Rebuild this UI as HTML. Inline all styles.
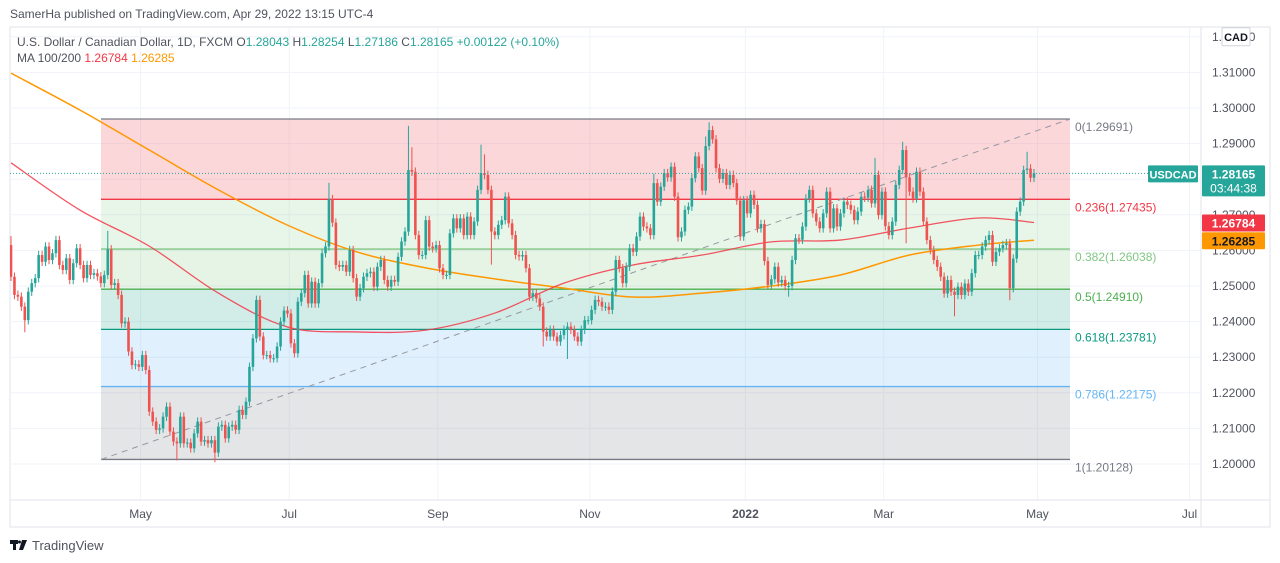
<!DOCTYPE html>
<html><head><meta charset="utf-8">
<style>
html,body{margin:0;padding:0;background:#fff;width:1280px;height:563px;overflow:hidden;font-family:"Liberation Sans",sans-serif;}
svg text{font-family:"Liberation Sans",sans-serif;}
</style></head>
<body>
<svg id="chart" width="1280" height="563" viewBox="0 0 1280 563" xmlns="http://www.w3.org/2000/svg">
  <text x="10" y="18" font-size="12" fill="#50535e">SamerHa published on TradingView.com, Apr 29, 2022 13:15 UTC-4</text>
  <rect x="10" y="27" width="1260" height="500" fill="#fff" stroke="#e0e3eb"/>
  <g id="grid"></g>
  <g id="fib"></g>
  <g id="plot"></g>
  <line x1="1201" y1="27" x2="1201" y2="527" stroke="#e0e3eb"/>
  <line x1="10" y1="500" x2="1270" y2="500" stroke="#e0e3eb"/>
  <g id="yaxis"></g>
  <g id="xaxis"></g>
  <text x="17" y="46" font-size="12" fill="#50535e">U.S. Dollar / Canadian Dollar, 1D, FXCM  O<tspan fill="#26a69a">1.28043</tspan>  H<tspan fill="#26a69a">1.28254</tspan>  L<tspan fill="#26a69a">1.27186</tspan>  C<tspan fill="#26a69a">1.28165</tspan>  <tspan fill="#26a69a">+0.00122 (+0.10%)</tspan></text>
  <text x="17" y="62" font-size="12" fill="#50535e">MA 100/200  <tspan fill="#f23645">1.26784</tspan>  <tspan fill="#ff9800">1.26285</tspan></text>
  <g>
    <rect x="10" y="540" width="8" height="4" fill="#131722"/><rect x="13" y="540" width="3" height="10" fill="#131722"/>
    <polygon points="19,550 22,540 27,540 23,550" fill="#131722"/><circle cx="19.5" cy="542" r="1.5" fill="#131722"/>
    <text x="32" y="550" font-size="13" fill="#50535e">TradingView</text>
  </g>
</svg>
<script>
const closes = [
1.2526,1.2475,1.2470,1.2442,1.2404,1.2484,1.2508,1.2522,1.2587,1.2568,
1.2611,1.2573,1.2592,1.2629,1.2559,1.2545,1.2578,1.2517,1.2564,1.2606,
1.2559,1.2522,1.2559,1.2531,1.2536,1.2527,1.2508,1.2531,1.2603,1.2503,
1.2508,1.2475,1.2395,1.2400,1.2316,1.2278,1.2280,1.2273,1.2306,1.2264,
1.2147,1.2119,1.2096,1.2100,1.2133,1.2161,1.2091,1.2063,1.2058,1.2133,
1.2058,1.2060,1.2044,1.2086,1.2119,1.2063,1.2067,1.2058,1.2067,1.2032,
1.2105,1.2110,1.2072,1.2105,1.2110,1.2096,1.2152,1.2138,1.2175,1.2273,
1.2353,1.2461,1.2358,1.2306,1.2306,1.2297,1.2297,1.2330,1.2400,1.2431,
1.2423,1.2339,1.2311,1.2456,
1.2480,1.2531,1.2451,1.2512,1.2451,1.2508,1.2592,1.2611,1.2744,1.2678,
1.2559,1.2554,1.2559,1.2540,1.2601,1.2522,1.2470,1.2494,1.2526,1.2536,
1.2540,1.2498,1.2554,1.2573,1.2517,1.2498,1.2517,1.2512,1.2582,1.2625,
1.2653,1.2826,1.2821,1.2643,1.2587,1.2587,1.2685,1.2611,1.2606,1.2615,
1.2550,1.2531,1.2531,1.2648,1.2690,1.2662,1.2690,1.2643,1.2695,1.2643,
1.2681,1.2770,1.2817,1.2812,1.2770,1.2653,1.2643,1.2672,1.2685,1.2751,
1.2676,1.2643,1.2587,1.2583,1.2587,1.2550,1.2470,1.2480,1.2465,1.2442,
1.2372,1.2358,1.2377,1.2358,1.2344,1.2362,1.2377,1.2386,1.2377,1.2358,
1.2344,1.2377,1.2404,1.2404,1.2433,1.2461,1.2456,1.2442,
1.2442,1.2433,1.2484,1.2573,1.2550,1.2508,1.2554,1.2606,1.2596,1.2639,
1.2695,1.2667,1.2662,1.2643,1.2789,1.2737,1.2779,1.2817,1.2805,1.2835,
1.2751,1.2637,1.2653,1.2714,1.2723,1.2803,1.2864,1.2831,1.2768,1.2893,
1.2938,1.2912,1.2831,1.2801,1.2817,1.2784,1.2812,1.2789,1.2740,1.2639,
1.2741,1.2704,1.2756,1.2728,1.2662,1.2674,1.2570,1.2503,1.2519,1.2554,
1.2510,1.2517,1.2500,1.2500,1.2573,1.2634,1.2630,1.2667,1.2746,1.2770,
1.2704,1.2681,1.2662,1.2704,1.2765,1.2662,1.2718,1.2667,1.2704,1.2737,
1.2728,1.2714,1.2685,1.2709,1.2751,1.2748,1.2770,1.2732,1.2812,1.2699,
1.2765,1.2668,1.2643,1.2681,1.2784,1.2826,1.2882,1.2805,1.2765,1.2746,
1.2821,
1.2765,1.2681,1.2629,1.2601,1.2573,1.2554,1.2526,1.2479,1.2517,1.2484,
1.2475,1.2498,1.2475,1.2507,1.2484,1.2536,1.2587,1.2587,1.2611,1.2629,
1.2643,1.2568,1.2596,1.2606,1.2615,1.2620,1.2494,1.2577,1.2709,1.2737,
1.2826,1.2830,1.2804,1.28165
];
const firstOpen = 1.2615;
const wickPad = 0.0012;
const highSpikes = {0:1.2640,28:1.2655,92:1.2790,115:1.2950,116:1.2890,136:1.2897,137:1.2870,186:1.2815,201:1.2920,202:1.2960,250:1.2860,258:1.2905,294:1.2877};
const lowSpikes = {4:1.2370,48:1.2010,59:1.2005,139:1.2560,154:1.2330,161:1.2295,225:1.2470,259:1.2620,273:1.2415,289:1.2460};
const maIdx = [0,20,40,60,80,100,120,140,160,180,200,220,240,260,280,296];
const ma100 = [1.2846,1.2713,1.2612,1.2480,1.2385,1.2371,1.2376,1.2424,1.2508,1.2559,1.2587,1.2624,1.2629,1.2663,1.2691,1.26784];
const ma200 = [1.3098,1.2994,1.2882,1.2770,1.2671,1.2596,1.2551,1.2520,1.2494,1.2469,1.2480,1.2500,1.2531,1.2587,1.2615,1.26285];
const fibRatios = ["0","0.236","0.382","0.5","0.618","0.786","1"];
const fibPrices = [1.29691,1.27435,1.26038,1.24910,1.23781,1.22175,1.20128];
const yTicks = [1.20,1.21,1.22,1.23,1.24,1.25,1.26,1.27,1.28,1.29,1.30,1.31,1.32];
const xTickLabels = ["May","Jul","Sep","Nov","2022","Mar","May","Jul"];
const xTickIdx = [37.5,80.5,123.5,167.5,212.5,252.5,297,341];

const NS="http://www.w3.org/2000/svg";
const N = closes.length;
function yOf(p){return 464-(p-1.20)*3560;}
function xOf(i){return 11+i*(1034-11)/(N-1);}
function mk(tag,attrs,parent){const e=document.createElementNS(NS,tag);for(const k in attrs)e.setAttribute(k,attrs[k]);parent.appendChild(e);return e;}
const grid=document.getElementById('grid'),plot=document.getElementById('plot'),fib=document.getElementById('fib'),yaxis=document.getElementById('yaxis'),xaxis=document.getElementById('xaxis');

const defs=mk('defs',{},document.getElementById('chart'));
const cp=mk('clipPath',{id:'pc'},defs);mk('rect',{x:10,y:28,width:1191,height:472},cp);
plot.setAttribute('clip-path','url(#pc)');
fib.setAttribute('clip-path','url(#pc)');

yTicks.forEach(p=>{const l=mk('line',{x1:10,x2:1201,y1:yOf(p),y2:yOf(p),stroke:'#f0f3fa'},grid);

});
xTickIdx.forEach(i=>{const l=mk('line',{x1:xOf(i),x2:xOf(i),y1:28,y2:500,stroke:'#f0f3fa'},grid);

});

const fibLine=['#787b86','#f23645','#81c784','#4caf50','#089981','#64b5f6','#787b86'];
const fibFill=['rgba(242,54,69,0.2)','rgba(129,199,132,0.18)','rgba(76,175,80,0.14)','rgba(8,153,129,0.18)','rgba(100,181,246,0.2)','rgba(120,123,134,0.2)'];
const fx1=101,fx2=1070;
for(let k=0;k<fibPrices.length-1;k++){
  const r=mk('rect',{x:fx1,y:yOf(fibPrices[k]),width:fx2-fx1,height:yOf(fibPrices[k+1])-yOf(fibPrices[k]),fill:fibFill[k]},fib);
  
  
}
fibPrices.forEach((p,k)=>{
  const l=mk('line',{x1:fx1,x2:fx2,y1:yOf(p),y2:yOf(p),stroke:fibLine[k],'stroke-width':1.3},fib);
  
  
  const t=mk('text',{x:1075,y:yOf(p)+12,'font-size':12,fill:fibLine[k]},document.getElementById('chart'));
  t.textContent=fibRatios[k]+'('+p.toFixed(5)+')';
  
  
});
const tl=mk('line',{x1:fx1,y1:yOf(fibPrices[6]),x2:fx2,y2:yOf(fibPrices[0]),stroke:'#9598a1','stroke-dasharray':'6,5'},fib);



function smooth(vals){
  const pts=maIdx.map((i,k)=>[xOf(i),yOf(vals[k])]);
  let d='M'+pts[0][0]+','+pts[0][1];
  for(let k=0;k<pts.length-1;k++){
    const p0=pts[Math.max(k-1,0)],p1=pts[k],p2=pts[k+1],p3=pts[Math.min(k+2,pts.length-1)];
    const c1=[p1[0]+(p2[0]-p0[0])/6,p1[1]+(p2[1]-p0[1])/6],c2=[p2[0]-(p3[0]-p1[0])/6,p2[1]-(p3[1]-p1[1])/6];
    d+=' C'+c1+' '+c2+' '+p2;
  }
  return d;
}
const m2=mk('path',{d:smooth(ma200),fill:'none',stroke:'#ff9800','stroke-width':1.5},plot);


const m1=mk('path',{d:smooth(ma100),fill:'none',stroke:'#f23645','stroke-width':1.3,'stroke-opacity':0.85},plot);



for(let i=0;i<N;i++){
  const o=i===0?firstOpen:closes[i-1],c=closes[i];
  const hi=highSpikes[i]!==undefined?highSpikes[i]:Math.max(o,c)+wickPad;
  const lo=lowSpikes[i]!==undefined?lowSpikes[i]:Math.min(o,c)-wickPad;
  const col=c>=o?'#26a69a':'#ef5350';
  const x=xOf(i);
  const g=mk('g',{},plot);
  
  
  mk('line',{x1:x,x2:x,y1:yOf(hi),y2:yOf(lo),stroke:col,'stroke-width':1},g);
  const top=yOf(Math.max(o,c)),bh=Math.max(1,Math.abs(yOf(o)-yOf(c)));
  mk('rect',{x:x-1.3,y:top,width:2.6,height:bh,fill:col},g);
}

const last=closes[N-1];
const pl=mk('line',{x1:10,x2:1148,y1:yOf(last),y2:yOf(last),stroke:'#26a69a','stroke-dasharray':'1,2'},document.getElementById('chart'));



yTicks.forEach(p=>{const t=mk('text',{x:1212,y:yOf(p)+4,'font-size':12,fill:'#50535e'},yaxis);t.textContent=p.toFixed(5);

});
function tag(y,h,fill,lines,name,x,w,color,fs){
  const g=mk('g',{},yaxis);
  
  
  mk('rect',{x:x,y:y,width:w,height:h,fill:fill,rx:1},g);
  lines.forEach((s,k)=>{const t=mk('text',{x:x+w/2,y:y+13+k*14,'font-size':fs||12,'font-weight':k===0?'bold':'normal',fill:color,'text-anchor':'middle'},g);t.textContent=s;});
  return g;
}
const cad=tag(yOf(1.32)-9,18,'#fff',['CAD'],'currency-badge',1222,28,'#131722',11);
cad.querySelector('rect').setAttribute('stroke','#d1d4dc');
tag(yOf(last)-8,17,'#26a69a',['USDCAD'],'symbol-tag',1148,50,'#fff',11);
tag(yOf(last)-8,31,'#26a69a',[last.toFixed(5),'03:44:38'],'last-price-tag',1202,63,'#fff');
tag(yOf(ma100[ma100.length-1])-8,17,'#f23645',[ma100[ma100.length-1].toFixed(5)],'ma100-tag',1202,63,'#fff');
tag(yOf(ma200[ma200.length-1])-8,17,'#ff9800',[ma200[ma200.length-1].toFixed(5)],'ma200-tag',1202,63,'#131722');

xTickLabels.forEach((s,k)=>{const t=mk('text',{x:xOf(xTickIdx[k]),y:518,'font-size':12,fill:'#50535e','text-anchor':'middle','font-weight':s==='2022'?'bold':'normal'},xaxis);t.textContent=s;

});
</script>
</body></html>
